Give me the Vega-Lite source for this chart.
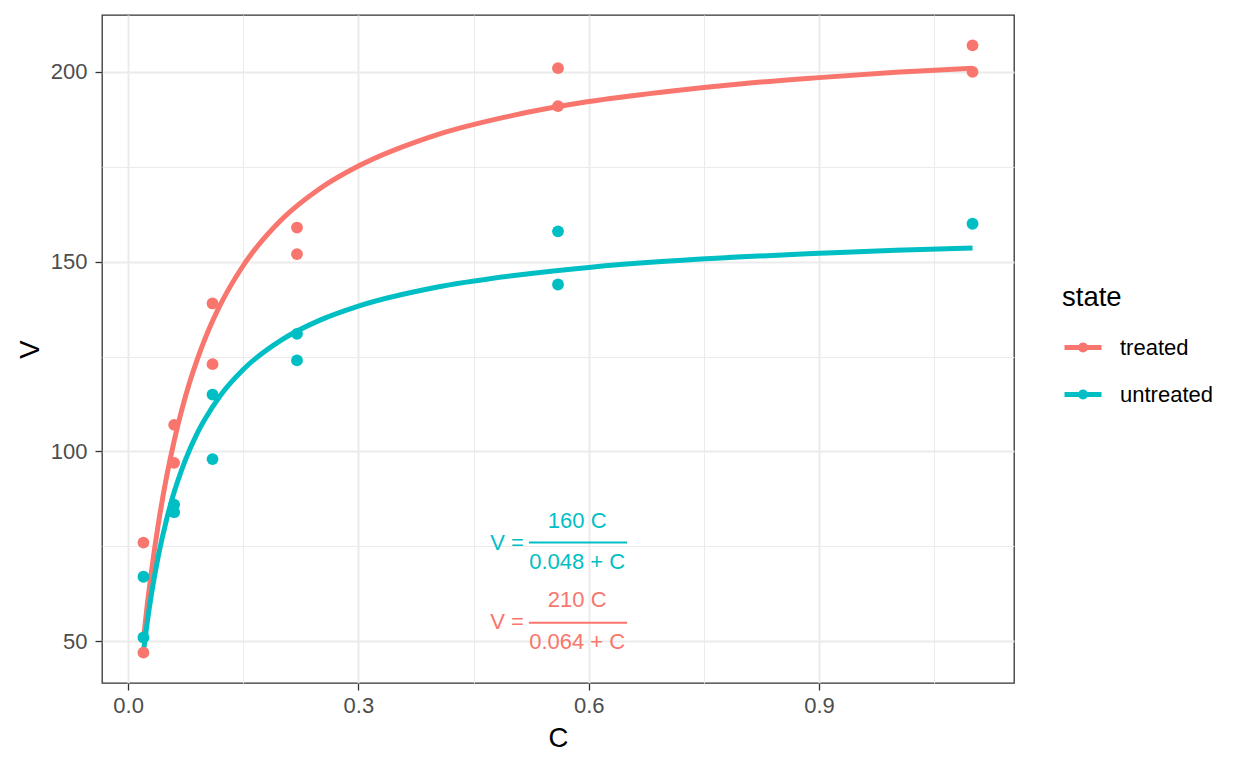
{
  "$schema": "https://vega.github.io/schema/vega-lite/v6.json",
  "width": 912,
  "height": 668,
  "autosize": "none",
  "padding": {"left": 102, "top": 15, "right": 234, "bottom": 85},
  "background": "white",
  "datasets": {
    "obs": [
      {"state": "treated", "C": 0.02, "V": 76},
      {"state": "treated", "C": 0.02, "V": 47},
      {"state": "treated", "C": 0.06, "V": 97},
      {"state": "treated", "C": 0.06, "V": 107},
      {"state": "treated", "C": 0.11, "V": 123},
      {"state": "treated", "C": 0.11, "V": 139},
      {"state": "treated", "C": 0.22, "V": 159},
      {"state": "treated", "C": 0.22, "V": 152},
      {"state": "treated", "C": 0.56, "V": 191},
      {"state": "treated", "C": 0.56, "V": 201},
      {"state": "treated", "C": 1.1, "V": 207},
      {"state": "treated", "C": 1.1, "V": 200},
      {"state": "untreated", "C": 0.02, "V": 67},
      {"state": "untreated", "C": 0.02, "V": 51},
      {"state": "untreated", "C": 0.06, "V": 84},
      {"state": "untreated", "C": 0.06, "V": 86},
      {"state": "untreated", "C": 0.11, "V": 98},
      {"state": "untreated", "C": 0.11, "V": 115},
      {"state": "untreated", "C": 0.22, "V": 131},
      {"state": "untreated", "C": 0.22, "V": 124},
      {"state": "untreated", "C": 0.56, "V": 144},
      {"state": "untreated", "C": 0.56, "V": 158},
      {"state": "untreated", "C": 1.1, "V": 160}
    ],
    "fit": [
      {"state": "treated", "C": 0.02, "V": 50.6},
      {"state": "treated", "C": 0.025, "V": 59.7},
      {"state": "treated", "C": 0.03, "V": 67.8},
      {"state": "treated", "C": 0.04, "V": 81.7},
      {"state": "treated", "C": 0.05, "V": 93.2},
      {"state": "treated", "C": 0.06, "V": 102.8},
      {"state": "treated", "C": 0.07, "V": 111.0},
      {"state": "treated", "C": 0.08, "V": 118.1},
      {"state": "treated", "C": 0.09, "V": 124.2},
      {"state": "treated", "C": 0.1, "V": 129.6},
      {"state": "treated", "C": 0.12, "V": 138.6},
      {"state": "treated", "C": 0.15, "V": 149.0},
      {"state": "treated", "C": 0.2, "V": 161.1},
      {"state": "treated", "C": 0.25, "V": 169.3},
      {"state": "treated", "C": 0.3, "V": 175.2},
      {"state": "treated", "C": 0.4, "V": 183.3},
      {"state": "treated", "C": 0.5, "V": 188.5},
      {"state": "treated", "C": 0.6, "V": 192.2},
      {"state": "treated", "C": 0.7, "V": 194.8},
      {"state": "treated", "C": 0.8, "V": 196.9},
      {"state": "treated", "C": 0.9, "V": 198.5},
      {"state": "treated", "C": 1.0, "V": 199.9},
      {"state": "treated", "C": 1.1, "V": 201.0},
      {"state": "untreated", "C": 0.02, "V": 47.3},
      {"state": "untreated", "C": 0.025, "V": 55.1},
      {"state": "untreated", "C": 0.03, "V": 61.9},
      {"state": "untreated", "C": 0.04, "V": 73.1},
      {"state": "untreated", "C": 0.05, "V": 82.0},
      {"state": "untreated", "C": 0.06, "V": 89.3},
      {"state": "untreated", "C": 0.07, "V": 95.3},
      {"state": "untreated", "C": 0.08, "V": 100.4},
      {"state": "untreated", "C": 0.09, "V": 104.8},
      {"state": "untreated", "C": 0.1, "V": 108.5},
      {"state": "untreated", "C": 0.12, "V": 114.7},
      {"state": "untreated", "C": 0.15, "V": 121.6},
      {"state": "untreated", "C": 0.2, "V": 129.4},
      {"state": "untreated", "C": 0.25, "V": 134.6},
      {"state": "untreated", "C": 0.3, "V": 138.3},
      {"state": "untreated", "C": 0.4, "V": 143.2},
      {"state": "untreated", "C": 0.5, "V": 146.3},
      {"state": "untreated", "C": 0.6, "V": 148.5},
      {"state": "untreated", "C": 0.7, "V": 150.1},
      {"state": "untreated", "C": 0.8, "V": 151.3},
      {"state": "untreated", "C": 0.9, "V": 152.2},
      {"state": "untreated", "C": 1.0, "V": 153.0},
      {"state": "untreated", "C": 1.1, "V": 153.6}
    ],
    "eqlhs": [
      {"state": "untreated", "C": 0.5156, "V": 76.0, "txt": "V ="},
      {"state": "treated", "C": 0.5156, "V": 55.0, "txt": "V ="}
    ],
    "eqfrac": [
      {"state": "untreated", "C": 0.585, "V": 81.8, "txt": "160 C"},
      {"state": "untreated", "C": 0.585, "V": 71.0, "txt": "0.048 + C"},
      {"state": "treated", "C": 0.585, "V": 60.9, "txt": "210 C"},
      {"state": "treated", "C": 0.585, "V": 49.9, "txt": "0.064 + C"}
    ],
    "eqbar": [
      {"state": "untreated", "C": 0.522, "C2": 0.65, "V": 76.0},
      {"state": "treated", "C": 0.522, "C2": 0.65, "V": 54.9}
    ]
  },
  "encoding": {
    "x": {
      "field": "C",
      "type": "quantitative",
      "scale": {"domain": [-0.034, 1.154], "nice": false, "zero": false},
      "axis": {
        "title": "C",
        "values": [0, 0.15, 0.3, 0.45, 0.6, 0.75, 0.9, 1.05],
        "labelExpr": "round(datum.value * 100) % 30 == 0 ? format(datum.value, '.1f') : ''",
        "gridWidth": {"condition": {"test": "round(datum.value * 100) % 30 != 0", "value": 1}, "value": 2},
        "tickOpacity": {"condition": {"test": "round(datum.value * 100) % 30 != 0", "value": 0}, "value": 1}
      }
    },
    "y": {
      "field": "V",
      "type": "quantitative",
      "scale": {"domain": [39, 215], "nice": false, "zero": false},
      "axis": {
        "title": "V",
        "values": [50, 75, 100, 125, 150, 175, 200],
        "labelExpr": "datum.value % 50 == 0 ? datum.label : ''",
        "gridWidth": {"condition": {"test": "datum.value % 50 != 0", "value": 1}, "value": 2},
        "tickOpacity": {"condition": {"test": "datum.value % 50 != 0", "value": 0}, "value": 1}
      }
    },
    "color": {
      "field": "state",
      "type": "nominal",
      "scale": {"domain": ["treated", "untreated"], "range": ["#F8766D", "#00BFC4"]}
    }
  },
  "layer": [
    {
      "data": {"name": "fit"},
      "mark": {"type": "line", "strokeWidth": 5, "strokeCap": "butt", "interpolate": "monotone"},
      "encoding": {
        "color": {
          "field": "state",
          "type": "nominal",
          "legend": {
            "orient": "none",
            "legendX": 960,
            "legendY": 269,
            "title": "state",
            "titleFontSize": 27.5,
            "titleFontWeight": "normal",
            "titleColor": "black",
            "titlePadding": 15,
            "labelFontSize": 22,
            "labelColor": "black",
            "labelOffset": 16,
            "symbolType": "M-1,0L1,0M0.14,0A0.14,0.14,0,1,1,-0.14,0A0.14,0.14,0,1,1,0.14,0Z",
            "symbolSize": 1369,
            "symbolStrokeWidth": 5,
            "rowPadding": 13,
            "padding": 0,
            "encode": {
              "symbols": {
                "update": {
                  "fill": {"signal": "scale('color', datum.value)"},
                  "stroke": {"signal": "scale('color', datum.value)"},
                  "opacity": {"value": 1}
                }
              }
            }
          }
        }
      }
    },
    {
      "data": {"name": "obs"},
      "mark": {"type": "point", "filled": true, "size": 140, "opacity": 1},
      "encoding": {"color": {"field": "state", "type": "nominal", "legend": null}}
    },
    {
      "data": {"name": "eqbar"},
      "mark": {"type": "rule", "strokeWidth": 2},
      "encoding": {
        "x2": {"field": "C2"},
        "color": {"field": "state", "type": "nominal", "legend": null}
      }
    },
    {
      "data": {"name": "eqlhs"},
      "mark": {"type": "text", "align": "right", "baseline": "middle", "fontSize": 22},
      "encoding": {
        "text": {"field": "txt"},
        "color": {"field": "state", "type": "nominal", "legend": null}
      }
    },
    {
      "data": {"name": "eqfrac"},
      "mark": {"type": "text", "align": "center", "baseline": "middle", "fontSize": 22},
      "encoding": {
        "text": {"field": "txt"},
        "color": {"field": "state", "type": "nominal", "legend": null}
      }
    }
  ],
  "config": {
    "font": "Liberation Sans",
    "view": {"stroke": "#333333", "strokeWidth": 1.3},
    "axis": {
      "domain": false,
      "grid": true,
      "gridColor": "#ebebeb",
      "tickColor": "#333333",
      "tickSize": 7,
      "tickWidth": 1.3,
      "labelFontSize": 22,
      "labelColor": "#4d4d4d",
      "labelPadding": 5,
      "titleFontSize": 27.5,
      "titleFontWeight": "normal",
      "titleColor": "black"
    },
    "axisX": {"titlePadding": 8},
    "axisY": {"titlePadding": 6, "labelPadding": 8}
  }
}
